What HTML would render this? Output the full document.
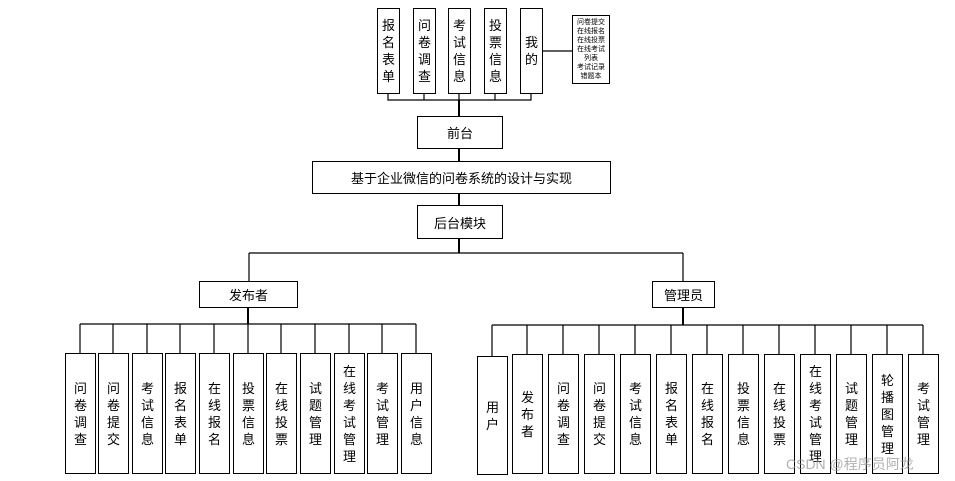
<!DOCTYPE html>
<html><head><meta charset="utf-8"><style>
body{margin:0;width:955px;height:481px;background:#fff;position:relative;overflow:hidden;font-family:"Liberation Sans","Noto Sans CJK SC",sans-serif;color:#000}
.b{position:absolute;box-sizing:border-box;border:1.5px solid #000;background:#fff;display:flex;align-items:center;justify-content:center;text-align:center;font-size:13px}
.v{flex-direction:column;line-height:17px;width:31px}
svg{position:absolute;left:0;top:0}
</style></head><body>
<svg width="955" height="481">
<g stroke="#000" stroke-width="1.2" fill="none">
<path d="M388 93V100H531V93M424 93V100M459 93V100M495 93V100"/>
<path d="M542 51H572"/>
<path d="M459 100V116M459 148V161M459 193V205" stroke-width="2"/>
<path d="M459 238V253" stroke-width="2"/>
<path d="M249 253H683M249 253V281M683 253V281"/>
<path d="M248 307V324" stroke-width="2"/>
<path d="M80 324H416"/>
<path d="M80 324V353M113 324V353M147 324V353M180 324V353M214 324V353M248 324V353M281 324V353M315 324V353M349 324V353M382 324V353M416 324V353"/>
<path d="M683 307V325" stroke-width="2"/>
<path d="M492 325H923"/>
<path d="M492 325V356M527 325V354M563 325V354M599 325V354M635 325V354M671 325V354M707 325V354M743 325V354M779 325V354M815 325V354M851 325V354M887 325V354M923 325V354"/>
</g></svg>
<div class="b v" style="left:377px;top:8px;width:23px;height:86px">报<br>名<br>表<br>单</div>
<div class="b v" style="left:413px;top:8px;width:23px;height:86px">问<br>卷<br>调<br>查</div>
<div class="b v" style="left:448px;top:8px;width:23px;height:86px">考<br>试<br>信<br>息</div>
<div class="b v" style="left:484px;top:8px;width:23px;height:86px">投<br>票<br>信<br>息</div>
<div class="b v" style="left:520px;top:8px;width:23px;height:86px">我<br>的</div>
<div class="b" style="left:572px;top:15px;width:38px;height:69px;font-size:7px;line-height:9px;flex-direction:column;border-width:1px">问卷提交<br>在线报名<br>在线投票<br>在线考试<br>列表<br>考试记录<br>错题本</div>
<div class="b" style="left:417px;top:116px;width:86px;height:33px">前台</div>
<div class="b" style="left:312px;top:161px;width:299px;height:33px">基于企业微信的问卷系统的设计与实现</div>
<div class="b" style="left:417px;top:205px;width:86px;height:34px">后台模块</div>
<div class="b" style="left:199px;top:281px;width:99px;height:27px">发布者</div>
<div class="b" style="left:652px;top:281px;width:63px;height:27px">管理员</div>
<div class="b v" style="left:65px;top:353px;height:121px">问<br>卷<br>调<br>查</div>
<div class="b v" style="left:98px;top:353px;height:121px">问<br>卷<br>提<br>交</div>
<div class="b v" style="left:132px;top:353px;height:121px">考<br>试<br>信<br>息</div>
<div class="b v" style="left:165px;top:353px;height:121px">报<br>名<br>表<br>单</div>
<div class="b v" style="left:199px;top:353px;height:121px">在<br>线<br>报<br>名</div>
<div class="b v" style="left:233px;top:353px;height:121px">投<br>票<br>信<br>息</div>
<div class="b v" style="left:266px;top:353px;height:121px">在<br>线<br>投<br>票</div>
<div class="b v" style="left:300px;top:353px;height:121px">试<br>题<br>管<br>理</div>
<div class="b v" style="left:334px;top:353px;height:121px">在<br>线<br>考<br>试<br>管<br>理</div>
<div class="b v" style="left:367px;top:353px;height:121px">考<br>试<br>管<br>理</div>
<div class="b v" style="left:401px;top:353px;height:121px">用<br>户<br>信<br>息</div>
<div class="b v" style="left:477px;top:356px;height:119px">用<br>户</div>
<div class="b v" style="left:512px;top:354px;height:120px">发<br>布<br>者</div>
<div class="b v" style="left:548px;top:354px;height:120px">问<br>卷<br>调<br>查</div>
<div class="b v" style="left:584px;top:354px;height:120px">问<br>卷<br>提<br>交</div>
<div class="b v" style="left:620px;top:354px;height:120px">考<br>试<br>信<br>息</div>
<div class="b v" style="left:656px;top:354px;height:120px">报<br>名<br>表<br>单</div>
<div class="b v" style="left:692px;top:354px;height:120px">在<br>线<br>报<br>名</div>
<div class="b v" style="left:728px;top:354px;height:120px">投<br>票<br>信<br>息</div>
<div class="b v" style="left:764px;top:354px;height:120px">在<br>线<br>投<br>票</div>
<div class="b v" style="left:800px;top:354px;height:120px">在<br>线<br>考<br>试<br>管<br>理</div>
<div class="b v" style="left:836px;top:354px;height:120px">试<br>题<br>管<br>理</div>
<div class="b v" style="left:872px;top:354px;height:120px">轮<br>播<br>图<br>管<br>理</div>
<div class="b v" style="left:908px;top:354px;height:120px">考<br>试<br>管<br>理</div>
<div style="position:absolute;left:786px;top:454px;font-size:14px;color:rgba(150,150,150,0.75);white-space:nowrap">CSDN @程序员阿龙</div>
</body></html>
